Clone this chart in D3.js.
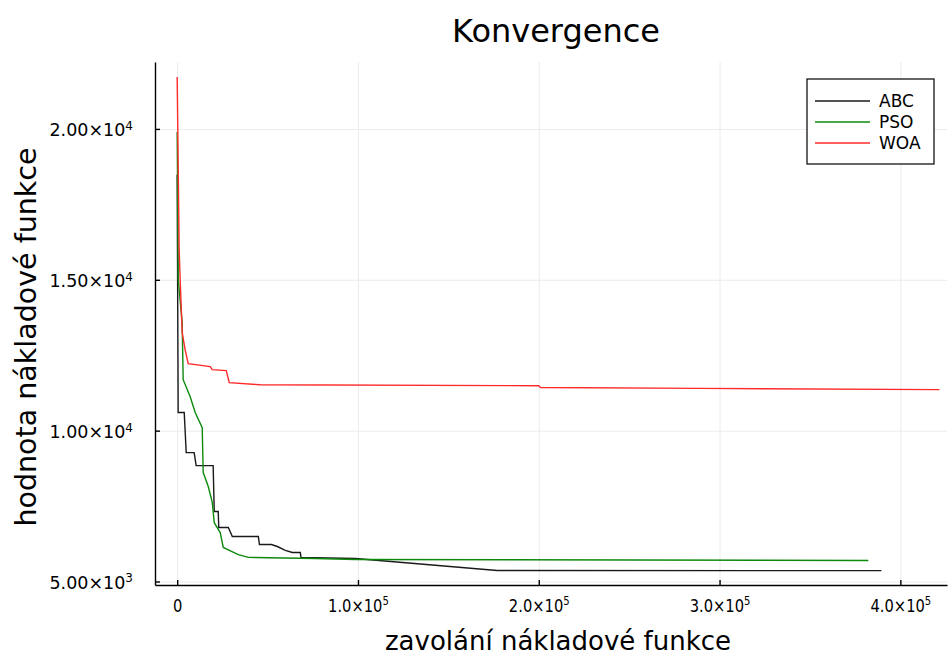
<!DOCTYPE html>
<html>
<head>
<meta charset="utf-8">
<script src="https://cdn.jsdelivr.net/npm/d3@7"></script>
<style>
  body { margin: 0; background: #fff; }
  svg { display: block; font-family: "DejaVu Sans", sans-serif; }
  .grid line { stroke: #ebebeb; stroke-width: 1; }
  .grid path { display: none; }
  .axis path, .axis line { stroke: #000; stroke-width: 1.4; }
</style>
</head>
<body>
<div id="chart"></div>
<script>
// data
var seriesNames = ['ABC', 'PSO', 'WOA'];
var seriesColors = ['#1a1a1a', '#0d8a0d', '#ff2a2a'];

var abcCalls = [0, 550, 3900, 5000, 9400, 10500, 19900, 20500, 22700, 23000, 28300, 30500, 44900, 45500, 52100, 55400, 59800, 63700, 68100, 68500, 98600, 177000, 389500];
var abcValues = [18480, 10600, 10600, 9270, 9270, 8840, 8840, 7320, 7320, 6790, 6790, 6490, 6490, 6225, 6225, 6160, 6030, 5960, 5960, 5795, 5760, 5365, 5360];

var psoCalls = [0, 600, 2770, 3320, 7200, 9970, 13850, 14400, 17200, 19400, 20500, 23800, 25500, 33800, 39300, 76500, 98600, 382300];
var psoValues = [19900, 15000, 13580, 11690, 11120, 10600, 10100, 8610, 8150, 7620, 6950, 6620, 6130, 5890, 5800, 5760, 5730, 5695];

var woaCalls = [0, 1100, 1660, 2770, 4430, 6090, 18280, 19390, 27150, 28800, 46000, 200000, 201000, 289750, 421600];
var woaValues = [21720, 15990, 15000, 13245, 12680, 12220, 12120, 12020, 11990, 11590, 11520, 11490, 11430, 11400, 11360];

var xTicks = [0, 100000, 200000, 300000, 400000];
var xTickLabels = ['0', '1.0×10^5', '2.0×10^5', '3.0×10^5', '4.0×10^5'];
var yTicks = [5000, 10000, 15000, 20000];
var yTickLabels = ['5.00×10^3', '1.00×10^4', '1.50×10^4', '2.00×10^4'];

var titleText = 'Konvergence';
var xLabel = 'zavolání nákladové funkce';
var yLabel = 'hodnota nákladové funkce';

// 描画領域
var width = 949;
var height = 655;
var margin = { top: 62, right: 2, bottom: 70, left: 155 };
var w = width - margin.left - margin.right;
var h = height - margin.top - margin.bottom;

var xScale = d3.scaleLinear().domain([-12265, 425800]).range([0, w]);
var yScale = d3.scaleLinear().domain([4884, 22218]).range([h, 0]);

var svg = d3.select('#chart').append('svg')
  .attr('width', width).attr('height', height);

var g = svg.append('g')
  .attr('transform', 'translate(' + margin.left + ',' + margin.top + ')');

g.append('defs').append('clipPath').attr('id', 'clip')
  .append('rect').attr('width', w).attr('height', h);

// grid
g.append('g').attr('class', 'grid')
  .attr('transform', 'translate(0,' + h + ')')
  .call(d3.axisBottom(xScale).tickValues(xTicks).tickSize(-h).tickFormat(''));
g.append('g').attr('class', 'grid')
  .call(d3.axisLeft(yScale).tickValues(yTicks).tickSize(-w).tickFormat(''));

// "1.0×10^5" -> text with superscript
function writeLabel(sel, label, supSize) {
  var parts = label.split('^');
  sel.append('tspan').text(parts[0]);
  if (parts.length > 1) {
    sel.append('tspan').attr('dy', '-0.55em').attr('font-size', supSize).text(parts[1]);
  }
}

// axes
var xAxis = g.append('g').attr('class', 'axis')
  .attr('transform', 'translate(0,' + h + ')')
  .call(d3.axisBottom(xScale).tickValues(xTicks).tickSize(-5).tickSizeOuter(0).tickFormat(''));
xAxis.selectAll('.tick').each(function(d, i) {
  var t = d3.select(this).append('text')
    .attr('y', 27).attr('x', 0)
    .attr('transform', 'scale(0.84,1)')
    .attr('text-anchor', 'middle')
    .attr('fill', '#000')
    .attr('font-size', 17.5)
    .attr('font-family', '"DejaVu Sans", sans-serif');
  writeLabel(t, xTickLabels[i], 12);
});

var yAxis = g.append('g').attr('class', 'axis')
  .call(d3.axisLeft(yScale).tickValues(yTicks).tickSize(-5).tickSizeOuter(0).tickFormat(''));
yAxis.selectAll('.tick').each(function(d, i) {
  var t = d3.select(this).append('text')
    .attr('x', -22).attr('y', 7)
    .attr('text-anchor', 'end')
    .attr('fill', '#000')
    .attr('font-size', 17.5)
    .attr('font-family', '"DejaVu Sans", sans-serif');
  writeLabel(t, yTickLabels[i], 12);
});

// lines
var line = d3.line()
  .x(function(d) { return xScale(d[0]); })
  .y(function(d) { return yScale(d[1]); });

var seriesData = [
  d3.zip(abcCalls, abcValues),
  d3.zip(psoCalls, psoValues),
  d3.zip(woaCalls, woaValues)
];

g.append('g').attr('clip-path', 'url(#clip)')
  .selectAll('path')
  .data(seriesData)
  .enter().append('path')
  .attr('d', line)
  .attr('fill', 'none')
  .attr('stroke', function(d, i) { return seriesColors[i]; })
  .attr('stroke-width', 1.4);

// title and axis labels
svg.append('text')
  .attr('x', 556).attr('y', 42)
  .attr('text-anchor', 'middle')
  .attr('font-size', 32)
  .text(titleText);

svg.append('text')
  .attr('x', 558).attr('y', 650)
  .attr('text-anchor', 'middle')
  .attr('font-size', 26)
  .text(xLabel);

svg.append('text')
  .attr('transform', 'translate(36,337) rotate(-90)')
  .attr('text-anchor', 'middle')
  .attr('font-size', 28.5)
  .text(yLabel);

// legend
var legend = svg.append('g').attr('transform', 'translate(807,79)');
legend.append('rect')
  .attr('width', 127).attr('height', 85)
  .attr('fill', '#fff').attr('stroke', '#000').attr('stroke-width', 1.2);
seriesNames.forEach(function(name, i) {
  var yy = 22 + i * 21;
  legend.append('line')
    .attr('x1', 8).attr('x2', 63).attr('y1', yy).attr('y2', yy)
    .attr('stroke', seriesColors[i]).attr('stroke-width', 1.4);
  legend.append('text')
    .attr('x', 72).attr('y', yy + 6)
    .attr('font-size', 17)
    .text(name);
});
</script>
</body>
</html>
